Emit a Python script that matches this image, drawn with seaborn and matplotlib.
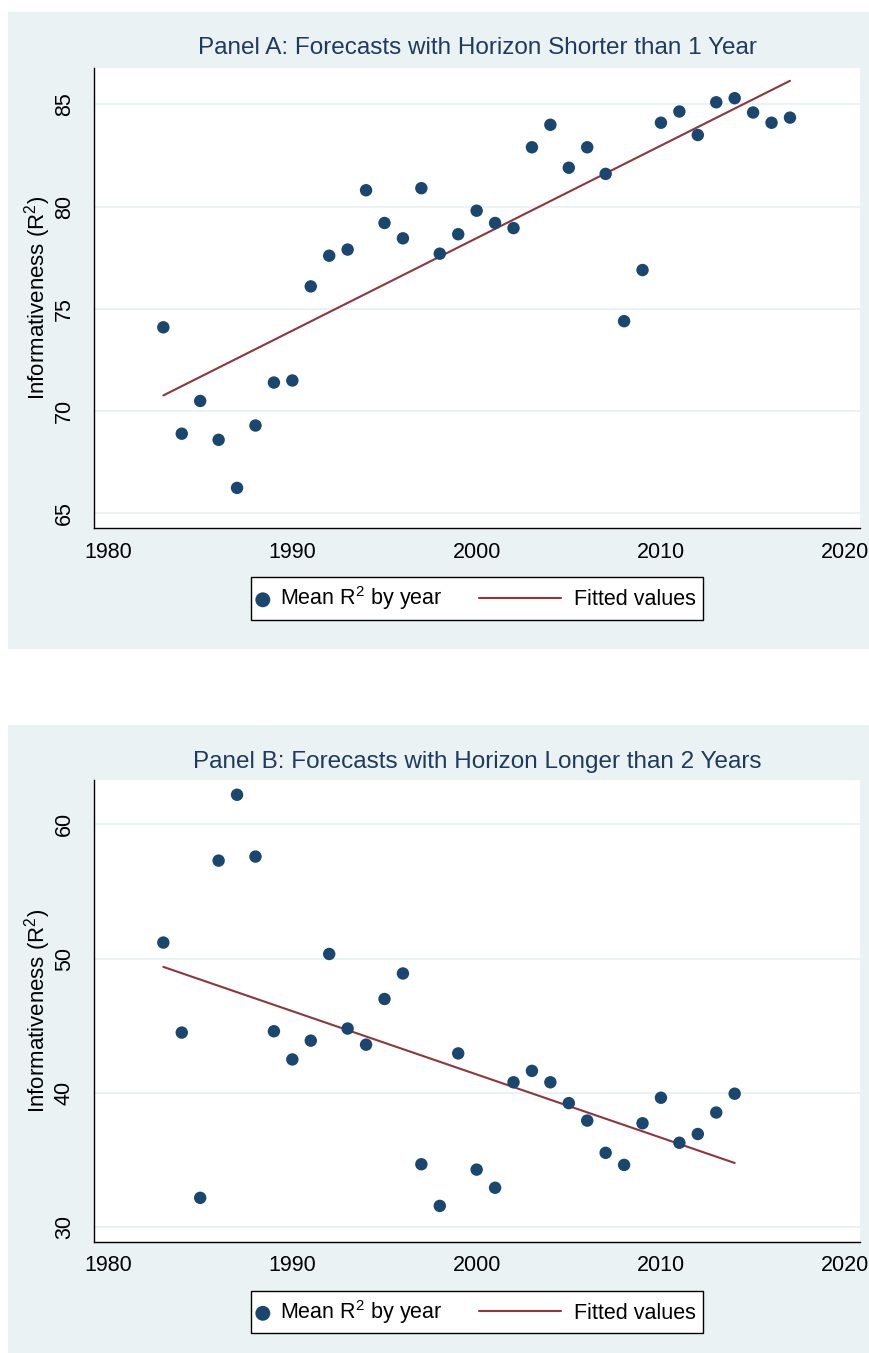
import matplotlib
matplotlib.use("Agg")
import matplotlib.pyplot as plt
from matplotlib.patches import Rectangle
from matplotlib.lines import Line2D
from matplotlib.legend_handler import HandlerBase
import numpy as np
import pandas as pd
import seaborn as sns

# Datos (media de R2 por año)
years_a = list(range(1983, 2018))
r2_a = [74.1, 68.9, 70.5, 68.6, 66.25, 69.3, 71.4, 71.5, 76.1, 77.6,
        77.9, 80.8, 79.2, 78.45, 80.9, 77.7, 78.65, 79.8, 79.2, 78.95,
        82.9, 84.0, 81.9, 82.9, 81.6, 74.4, 76.9, 84.1, 84.65, 83.5,
        85.1, 85.3, 84.6, 84.1, 84.35]

years_b = list(range(1983, 2015))
r2_b = [51.2, 44.5, 32.2, 57.3, 62.2, 57.6, 44.6, 42.5, 43.9, 50.35,
        44.8, 43.6, 47.0, 48.9, 34.7, 31.6, 42.95, 34.3, 32.95, 40.8,
        41.65, 40.8, 39.25, 37.95, 35.55, 34.65, 37.75, 39.65, 36.3, 36.95,
        38.55, 39.95]

titles = ["Panel A: Forecasts with Horizon Shorter than 1 Year",
          "Panel B: Forecasts with Horizon Longer than 2 Years"]
yticks_a = [65, 70, 75, 80, 85]
yticks_b = [30, 40, 50, 60]
xticks = [1980, 1990, 2000, 2010, 2020]

# Colores estilo Stata s2color
BG = "#eaf2f3"
NAVY = "#1a476f"
MAROON = "#90353b"
TITLE_C = "#1f3a5f"

sns.set_style("white")
plt.rcParams.update({
    "font.family": ["Liberation Sans", "DejaVu Sans"],
    "mathtext.fontset": "custom",
    "mathtext.rm": "Liberation Sans",
    "text.color": "black",
    "axes.labelcolor": "black",
    "xtick.color": "black",
    "ytick.color": "black",
})


class LongLineHandler(HandlerBase):
    """Línea de leyenda más larga que la caja del marcador (se extiende a la izquierda)."""

    def __init__(self, extend):
        super().__init__()
        self.extend = extend

    def create_artists(self, legend, orig_handle, xdescent, ydescent,
                       width, height, fontsize, trans):
        y = (height - ydescent) / 2.0
        x0 = -xdescent - self.extend * fontsize
        x1 = -xdescent + width
        line = Line2D([x0, x1], [y, y], color=MAROON, lw=1.5, transform=trans)
        return [line]


W, H = 870, 1353
fig = plt.figure(figsize=(W / 100, H / 100), dpi=100)

# Fondos de cada panel
fig.patches.append(Rectangle((8 / W, 1 - 649 / H), 1 - 8 / W, (649 - 12) / H,
                             transform=fig.transFigure, facecolor=BG,
                             edgecolor="none", zorder=-10))
fig.patches.append(Rectangle((8 / W, 0), 1 - 8 / W, 1 - 725 / H,
                             transform=fig.transFigure, facecolor=BG,
                             edgecolor="none", zorder=-10))

panels = [
    (years_a, r2_a, yticks_a, (64.29, 86.8), 67.5, 528.0),
    (years_b, r2_b, yticks_b, (28.95, 63.3), 780.0, 1241.5),
]

left_px, right_px = 94.4, 860.0
for i, (yrs, vals, yt, ylim, top_px, bot_px) in enumerate(panels):
    ax = fig.add_axes([left_px / W, 1 - bot_px / H,
                       (right_px - left_px) / W, (bot_px - top_px) / H])
    ax.set_zorder(1)
    ax.set_facecolor("white")
    df = pd.DataFrame({"year": yrs, "r2": vals})

    sns.scatterplot(data=df, x="year", y="r2", ax=ax, color=NAVY, s=80,
                    edgecolor="none", label=r"Mean $\mathregular{R^2}$ by year",
                    zorder=3)
    sns.regplot(data=df, x="year", y="r2", ax=ax, scatter=False, ci=None,
                color=MAROON, line_kws={"lw": 1.5, "zorder": 2},
                label="Fitted values")

    ax.set_xlim(1979.26, 2020.8)
    ax.set_ylim(*ylim)
    ax.set_xticks(xticks)
    ax.set_yticks(yt)
    ax.grid(axis="y", color=BG, lw=1.5)
    ax.grid(axis="x", visible=False)
    ax.set_axisbelow(True)
    for side in ["top", "right"]:
        ax.spines[side].set_visible(False)
    for side in ["left", "bottom"]:
        ax.spines[side].set_color("black")
        ax.spines[side].set_linewidth(1.0)

    ax.tick_params(axis="both", which="major", length=6, width=0.9,
                   color="black", labelcolor="black", labelsize=15.5,
                   direction="out")
    ax.tick_params(axis="y", labelrotation=90, pad=8)
    ax.tick_params(axis="x", pad=4)
    for lab in ax.get_yticklabels():
        lab.set_va("center")

    ax.set_xlabel("")
    ax.set_ylabel(r"Informativeness ($\mathregular{R^2}$)", fontsize=16,
                  color="black")
    ax.yaxis.set_label_coords((53 - left_px) / (right_px - left_px), 0.5)

    ph = bot_px - top_px
    ax.text(0.5, 1 + (top_px - (47.7 if i == 0 else 761.7)) / ph, titles[i],
            transform=ax.transAxes, ha="center", va="center",
            fontsize=17.5, color=TITLE_C)

    handles, labels = ax.get_legend_handles_labels()
    leg = ax.legend(handles, labels, loc="center",
                    bbox_to_anchor=(0.5, -70.5 / ph), ncol=2, fontsize=15.5,
                    frameon=True, fancybox=False, framealpha=1,
                    edgecolor="black", borderpad=0.33, handlelength=0.4,
                    handletextpad=0.6, columnspacing=5.1, scatterpoints=1,
                    markerscale=1.2, labelcolor="black",
                    handler_map={handles[1]: LongLineHandler(3.4)})
    leg.get_frame().set_linewidth(1.0)

fig.savefig("out.png", dpi=100, facecolor="white")
